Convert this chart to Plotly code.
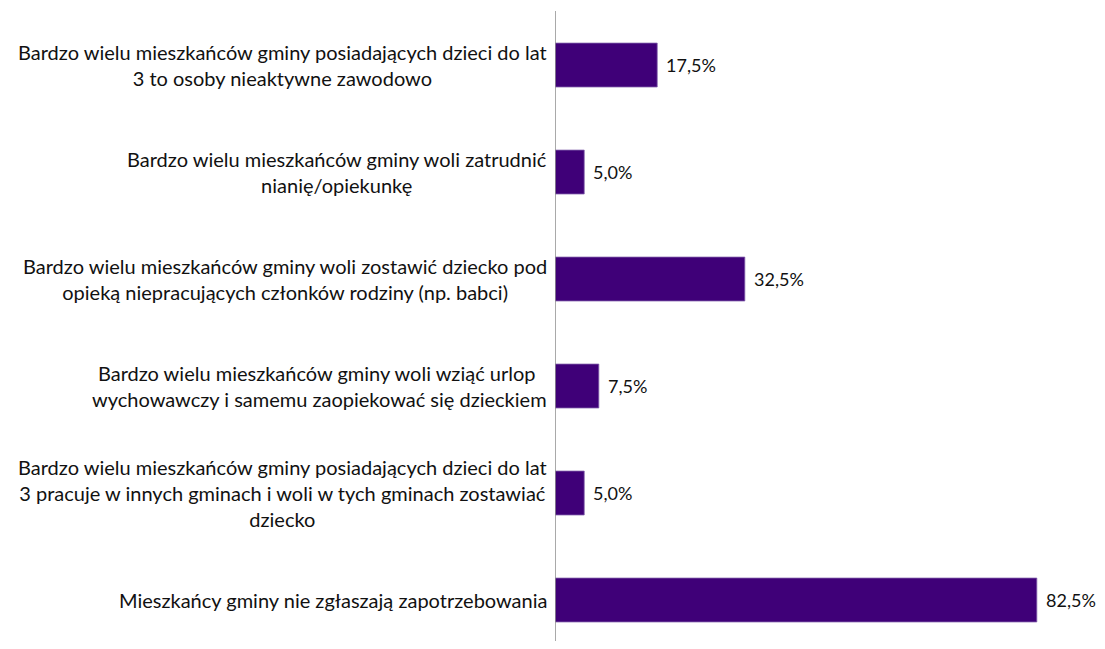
import plotly.graph_objects as go

categories = [
    "Bardzo wielu mieszkańców gminy posiadających dzieci do lat<br>3 to osoby nieaktywne zawodowo",
    "Bardzo wielu mieszkańców gminy woli zatrudnić<br>nianię/opiekunkę",
    "Bardzo wielu mieszkańców gminy woli zostawić dziecko pod<br>opieką niepracujących członków rodziny (np. babci)",
    "Bardzo wielu mieszkańców gminy woli wziąć urlop <br>wychowawczy i samemu zaopiekować się dzieckiem",
    "Bardzo wielu mieszkańców gminy posiadających dzieci do lat<br>3 pracuje w innych gminach i woli w tych gminach zostawiać<br>dziecko",
    "Mieszkańcy gminy nie zgłaszają zapotrzebowania",
]
values = [17.5, 5.0, 32.5, 7.5, 5.0, 82.5]
value_labels = ["17,5%", "5,0%", "32,5%", "7,5%", "5,0%", "82,5%"]

FONT = "Lato, 'Noto Sans', sans-serif"
BAR = "#3f0078"

fig = go.Figure()
fig.add_trace(go.Bar(
    y=list(range(len(categories))), x=values, orientation="h",
    marker=dict(color=BAR, line=dict(color="#7d5aa8", width=0.8)),
    hoverinfo="skip",
))

for i, (c, v, t) in enumerate(zip(categories, values, value_labels)):
    fig.add_annotation(x=0, xref="x", y=i, yref="y", text=c, showarrow=False,
                       xanchor="right", yanchor="middle", align="center", xshift=-6,
                       font=dict(family=FONT, size=20, color="#111111"))
    fig.add_annotation(x=v, xref="x", y=i, yref="y", text=t, showarrow=False,
                       xanchor="left", yanchor="middle", xshift=7,
                       font=dict(family=FONT, size=18, color="#111111"))

fig.update_layout(
    width=1089, height=633,
    margin=dict(l=547, r=0, t=3, b=0),
    paper_bgcolor="white", plot_bgcolor="white",
    bargap=0.59, showlegend=False,
    xaxis=dict(range=[0, 542 / 5.84], visible=False),
    yaxis=dict(range=[5.383, -0.505], showticklabels=False, showgrid=False,
               zeroline=False, showline=False, ticks=""),
)
fig.add_shape(type="line", xref="x", yref="paper", x0=0, x1=0, y0=0, y1=1,
              line=dict(color="#8c8c8c", width=1.5))

fig.write_html("out.html")
